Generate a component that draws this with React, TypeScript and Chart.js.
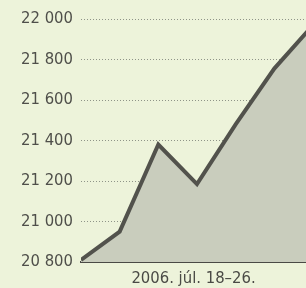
import React, { useEffect, useRef } from "react";
import { Chart, registerables } from "chart.js";

Chart.register(...registerables);

const dayIndex = [0, 1, 2, 3, 4, 5, 6];
const indexValues = [20810, 20950, 21380, 21185, 21480, 21755, 21970];
const yTicks = [20800, 21000, 21200, 21400, 21600, 21800, 22000];
const axisTitle = "2006. júl. 18–26.";

const FONT = "'DejaVu Sans Condensed', 'Liberation Sans', sans-serif";

export default function App() {
  const ref = useRef<HTMLCanvasElement | null>(null);

  useEffect(() => {
    if (!ref.current) return;
    const chart = new Chart(ref.current, {
      type: "line",
      data: {
        datasets: [
          {
            data: dayIndex.map((d, i) => ({ x: d, y: indexValues[i] })),
            borderColor: "#52524c",
            borderWidth: 4,
            borderJoinStyle: "miter",
            backgroundColor: "#c9cdbd",
            fill: "start",
            pointRadius: 0,
            tension: 0,
          },
        ],
      },
      options: {
        animation: false,
        responsive: false,
        layout: { padding: { top: 19, right: 0, left: 0, bottom: 0 } },
        plugins: { legend: { display: false }, tooltip: { enabled: false } },
        scales: {
          x: {
            type: "linear",
            min: 0,
            max: 5.82,
            grid: { display: false },
            border: { display: true, color: "#4a4a45", width: 2 },
            ticks: { display: false },
            afterFit: (s: any) => {
              s.height = 26;
            },
            title: {
              display: true,
              text: axisTitle,
              color: "#4a4a45",
              font: { family: FONT, size: 16.5 },
              padding: { top: 0, bottom: -1 },
            },
          },
          y: {
            min: 20800,
            max: 22000,
            afterBuildTicks: (s: any) => {
              s.ticks = yTicks.map((v) => ({ value: v }));
            },
            afterFit: (s: any) => {
              s.width = 81;
              s.paddingTop = 0;
            },
            grid: {
              drawTicks: false,
              color: (c: any) => (c.tick && c.tick.value === 20800 ? "rgba(0,0,0,0)" : "#8f9488"),
              lineWidth: 1,
            },
            border: { display: false, dash: [1, 2] },
            ticks: {
              padding: 8,
              color: "#4f4f4a",
              font: { family: FONT, size: 16.5 },
              callback: (v: any) => {
                const s = String(v);
                return s.slice(0, 2) + " " + s.slice(2);
              },
            },
          },
        },
      },
    });
    return () => chart.destroy();
  }, []);

  return (
    <div style={{ position: "absolute", left: 0, top: 0, width: 306, height: 288, background: "#edf3da", overflow: "hidden" }}>
      <canvas ref={ref} width={306} height={288} style={{ display: "block" }} />
    </div>
  );
}
